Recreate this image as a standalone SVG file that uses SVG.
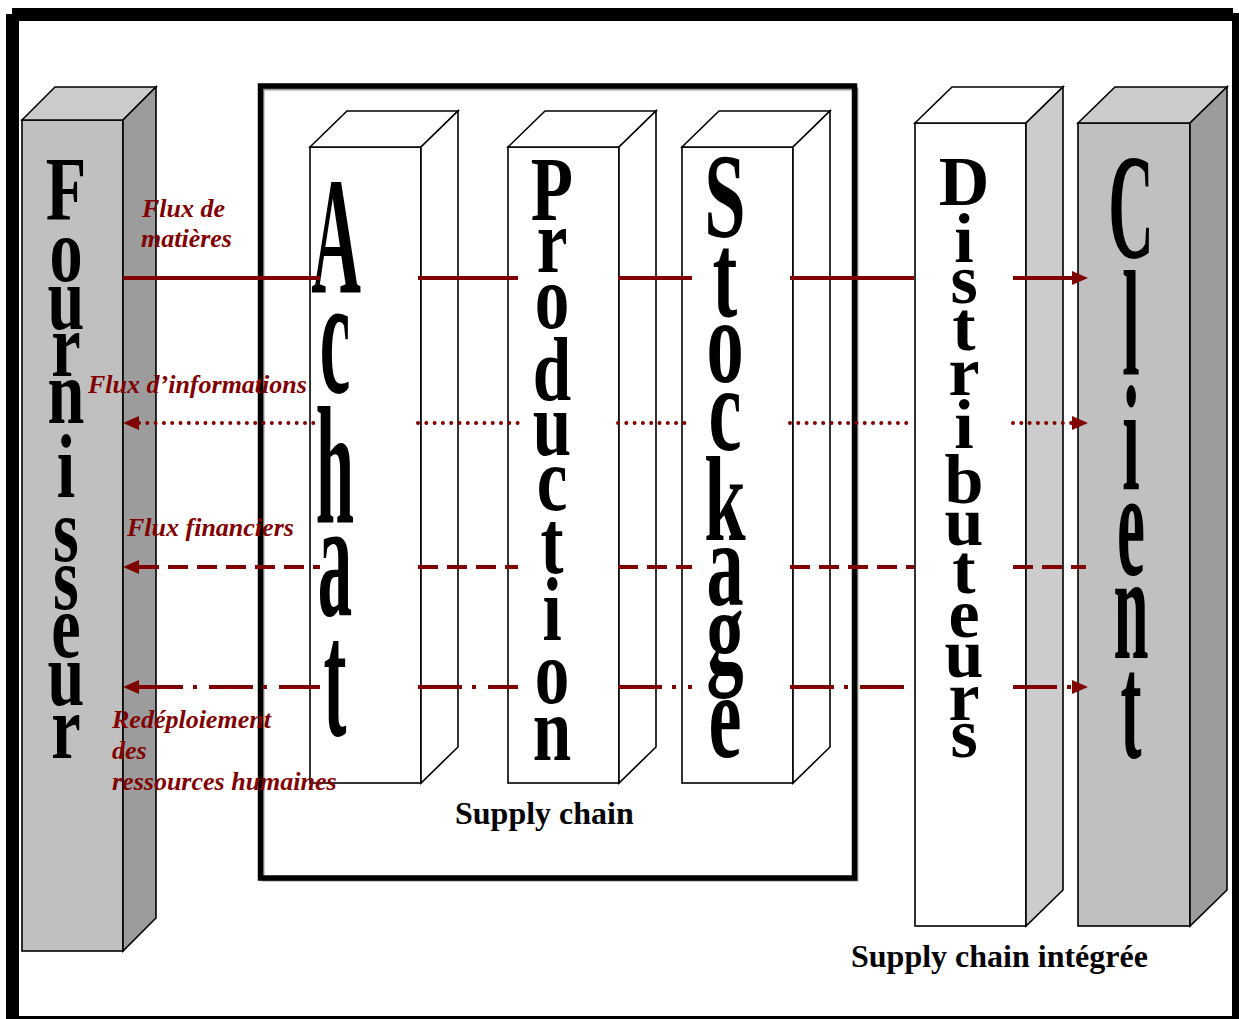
<svg xmlns="http://www.w3.org/2000/svg" width="1239" height="1019" viewBox="0 0 1239 1019">
<style>
.edge{stroke:#000;stroke-width:1.6;stroke-linejoin:miter}
.g1{fill:#c0c0c0}.g2{fill:#cccccc}.g3{fill:#9c9c9c}.w{fill:#fff}
.big{font-family:"Liberation Serif","Times New Roman",serif;font-weight:bold;fill:#000;text-anchor:middle}
.lbl{font-family:"Liberation Serif","Times New Roman",serif;font-weight:bold;font-style:italic;font-size:26px;fill:#800000}
.cap{font-family:"Liberation Serif","Times New Roman",serif;font-weight:bold;font-size:32px;fill:#000}
.flow{fill:none;stroke:#800000;stroke-width:4}
.dot{stroke-dasharray:0 8.3;stroke-linecap:round}
.dash{stroke-dasharray:20 9}
.dd{stroke-dasharray:44 10 4 12}
</style>
<defs>
<marker id="ah" markerUnits="userSpaceOnUse" markerWidth="16" markerHeight="14" refX="0" refY="7" orient="auto-start-reverse" overflow="visible">
<path d="M0,0 L16,7 L0,14 Z" fill="#800000"/>
</marker>
</defs>
<rect width="1239" height="1019" fill="#fff"/>
<g id="frame">
<rect x="12" y="8" width="1221" height="13" fill="#000"/>
<rect x="6" y="14" width="13" height="1005" fill="#000"/>
<rect x="1232" y="13" width="7" height="1006" fill="#000"/>
<rect x="6" y="1016" width="1233" height="3" fill="#000"/>
</g>
<g id="supply-chain-box">
<rect x="263" y="89" width="594" height="791" fill="none" stroke="#9a9a9a" stroke-width="3"/>
<rect x="260.5" y="86" width="594" height="792" fill="none" stroke="#000" stroke-width="5.5"/>
<text class="cap" x="455" y="824">Supply chain</text>
</g>
<g id="fournisseur">
<rect class="g1 edge" x="22" y="120" width="101" height="831"/>
<polygon class="g2 edge" points="22,120 55,87 156,87 123,120"/>
<polygon class="g3 edge" points="123,120 156,87 156,918 123,951"/>
<g class="big" font-size="92">
<text transform="translate(66,220) scale(0.72,1)">F</text>
<text transform="translate(66,281) scale(0.72,1)">o</text>
<text transform="translate(66,329) scale(0.72,1)">u</text>
<text transform="translate(66,376) scale(0.72,1)">r</text>
<text transform="translate(66,423) scale(0.72,1)">n</text>
<text transform="translate(66,497) scale(0.72,1)">i</text>
<text transform="translate(66,561) scale(0.72,1)">s</text>
<text transform="translate(66,609) scale(0.72,1)">s</text>
<text transform="translate(66,657) scale(0.72,1)">e</text>
<text transform="translate(66,705) scale(0.72,1)">u</text>
<text transform="translate(66,758) scale(0.72,1)">r</text>
</g>
</g>
<g id="achat">
<rect class="w edge" x="310" y="147" width="111" height="636"/>
<polygon class="w edge" points="310,147 347,111 458,111 421,147"/>
<polygon class="w edge" points="421,147 458,111 458,747 421,783"/>
<g class="big" font-size="168">
<text transform="translate(336,293) scale(0.41,1)">A</text>
<text transform="translate(335,392) scale(0.41,1)">c</text>
<text transform="translate(335,522) scale(0.41,1)">h</text>
<text transform="translate(335,615) scale(0.41,1)">a</text>
<text transform="translate(335,735) scale(0.41,1)">t</text>
</g>
</g>
<g id="production">
<rect class="w edge" x="508" y="147" width="111" height="636"/>
<polygon class="w edge" points="508,147 545,111 656,111 619,147"/>
<polygon class="w edge" points="619,147 656,111 656,747 619,783"/>
<g class="big" font-size="91">
<text transform="translate(552,220) scale(0.76,1)">P</text>
<text transform="translate(552,272) scale(0.76,1)">r</text>
<text transform="translate(552,328) scale(0.76,1)">o</text>
<text transform="translate(552,400) scale(0.76,1)">d</text>
<text transform="translate(552,455) scale(0.76,1)">u</text>
<text transform="translate(552,510) scale(0.76,1)">c</text>
<text transform="translate(552,573) scale(0.76,1)">t</text>
<text transform="translate(552,640) scale(0.76,1)">i</text>
<text transform="translate(552,703) scale(0.76,1)">o</text>
<text transform="translate(552,760) scale(0.76,1)">n</text>
</g>
</g>
<g id="stockage">
<rect class="w edge" x="682" y="147" width="111" height="636"/>
<polygon class="w edge" points="682,147 719,111 830,111 793,147"/>
<polygon class="w edge" points="793,147 830,111 830,747 793,783"/>
<g class="big" font-size="120">
<text transform="translate(725,237) scale(0.62,1)">S</text>
<text transform="translate(725,316) scale(0.62,1)">t</text>
<text transform="translate(725,382) scale(0.62,1)">o</text>
<text transform="translate(725,450) scale(0.62,1)">c</text>
<text transform="translate(725,540) scale(0.62,1)">k</text>
<text transform="translate(725,605) scale(0.62,1)">a</text>
<text transform="translate(725,672) scale(0.62,1)">g</text>
<text transform="translate(725,757) scale(0.62,1)">e</text>
</g>
</g>
<g id="distributeurs">
<rect class="w edge" x="915" y="123" width="111" height="803"/>
<polygon class="w edge" points="915,123 952,87 1063,87 1026,123"/>
<polygon class="g2 edge" points="1026,123 1063,87 1063,890 1026,926"/>
<g class="big" font-size="70">
<text x="964" y="205">D</text>
<text x="964" y="262">i</text>
<text x="964" y="303">s</text>
<text x="964" y="350">t</text>
<text x="964" y="395">r</text>
<text x="964" y="448">i</text>
<text x="964" y="503">b</text>
<text x="964" y="545">u</text>
<text x="964" y="593">t</text>
<text x="964" y="637">e</text>
<text x="964" y="677">u</text>
<text x="964" y="720">r</text>
<text x="964" y="757">s</text>
</g>
</g>
<g id="client">
<rect class="g1 edge" x="1078" y="123" width="112" height="803"/>
<polygon class="g2 edge" points="1078,123 1115,87 1227,87 1190,123"/>
<polygon class="g3 edge" points="1190,123 1227,87 1227,890 1190,926"/>
<g class="big" font-size="150">
<text transform="translate(1131,258) scale(0.42,1)">C</text>
<text transform="translate(1131,375) scale(0.42,1)">l</text>
<text transform="translate(1131,490) scale(0.42,1)">i</text>
<text transform="translate(1131,575) scale(0.42,1)">e</text>
<text transform="translate(1131,658) scale(0.42,1)">n</text>
<text transform="translate(1131,758) scale(0.42,1)">t</text>
</g>
<text class="cap" x="851" y="967">Supply chain intégrée</text>
</g>
<g id="connectors">
<g class="flow">
<path d="M123,278 H320 M418,278 H518 M618,278 H692 M790,278 H914"/>
<path d="M1013,278 H1072" marker-end="url(#ah)"/>
</g>
<g class="flow dot">
<path d="M139,423 H320" marker-start="url(#ah)"/>
<path d="M418,423 H518 M618,423 H692 M790,423 H914"/>
<path d="M1013,423 H1072" marker-end="url(#ah)"/>
</g>
<g class="flow dash">
<path d="M139,567 H320" marker-start="url(#ah)"/>
<path d="M418,567 H518 M618,567 H692 M790,567 H914 M1013,567 H1086"/>
</g>
<g class="flow dd">
<path d="M139,687 H320" marker-start="url(#ah)"/>
<path d="M418,687 H518 M618,687 H692 M790,687 H914"/>
<path d="M1013,687 H1072" marker-end="url(#ah)"/>
</g>
</g>
<g id="labels">
<text class="lbl" x="142" y="217">Flux de</text>
<text class="lbl" x="141" y="247">matières</text>
<text class="lbl" x="88" y="393">Flux d’informations</text>
<text class="lbl" x="127" y="536">Flux financiers</text>
<text class="lbl" x="112" y="728">Redéploiement</text>
<text class="lbl" x="112" y="759">des</text>
<text class="lbl" x="112" y="790">ressources humaines</text>
</g>
</svg>
